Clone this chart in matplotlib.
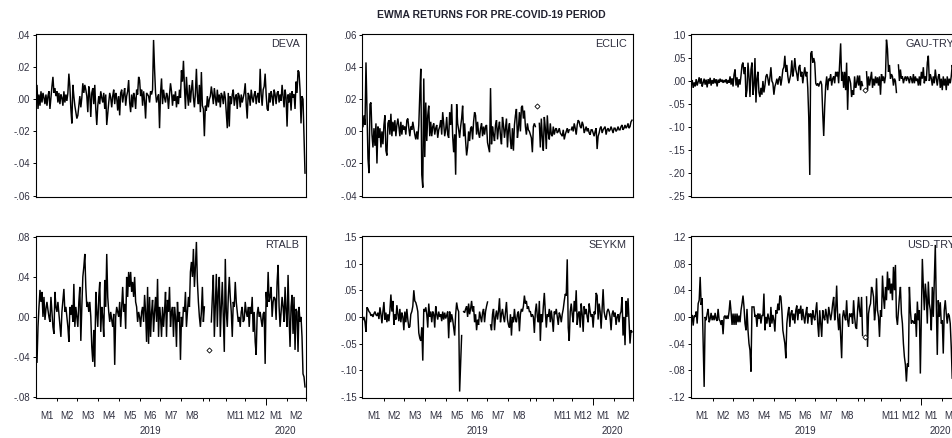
import numpy as np
import matplotlib
matplotlib.use("Agg")
import matplotlib.pyplot as plt
from matplotlib.ticker import FuncFormatter
import matplotlib.transforms as mtransforms

plt.rcParams['font.family'] = ['Liberation Sans', 'DejaVu Sans']

nan = float('nan')

title = "EWMA RETURNS FOR PRE-COVID-19 PERIOD"

# observations per month (Jan 2019 ... Feb 2020)
month_counts = [22, 20, 21, 21, 21, 20, 21, 22, 6, 17, 19, 21, 21, 19]
month_labels = ["M1", "M2", "M3", "M4", "M5", "M6", "M7", "M8", "", "", "M11", "M12", "M1", "M2"]
month_years = [2019] * 12 + [2020] * 2

series_names = ["DEVA", "ECLIC", "GAU-TRY", "RTALB", "SEYKM", "USD-TRY"]

deva = [
    -0.005, 0.009, -0.006, 0.003, -0.004, 0.005, -0.002, 0.004, 0.001, -0.003, 0.003, -0.004, 0.002, 0.005, -0.006, 0.001, 0.008, 0.014, 0.004, 0.007, 0.002, 0.005,
    -0.002, 0.004, -0.003, 0.003, 0.001, -0.004, 0.005, -0.002, 0.003, -0.001, 0.004, 0.016, 0.008, -0.006, -0.015, 0.009, 0.002, -0.004, -0.008, -0.012,
    -0.010, -0.004, 0.002, -0.005, 0.001, 0.010, 0.004, 0.009, 0.006, 0.002, -0.008, 0.008, 0.003, -0.011, 0.004, 0.007, -0.003, 0.009, -0.006, -0.016, -0.004,
    0.002, -0.003, 0.005, 0.001, -0.002, 0.004, -0.006, 0.003, -0.016, -0.009, -0.002, 0.004, 0.001, -0.005, 0.002, 0.006, -0.003, 0.004, 0.001, -0.007, 0.002,
    -0.010, 0.004, 0.006, -0.002, 0.003, 0.007, -0.004, 0.002, 0.005, 0.012, -0.002, -0.008, 0.003, -0.005, 0.004, 0.001, -0.006, 0.006, 0.003, 0.014, 0.012,
    0.002, 0.006, -0.004, 0.005, -0.001, -0.012, 0.004, 0.003, 0.002, -0.002, 0.005, 0.003, 0.006, 0.037, 0.019, 0.004, -0.002, 0.001, 0.003, -0.018,
    0.004, 0.013, -0.003, 0.006, 0.001, -0.002, 0.004, 0.002, -0.006, 0.003, 0.010, 0.005, -0.004, 0.003, -0.001, 0.005, -0.005, 0.002, -0.003, 0.006, 0.001,
    0.018, 0.011, 0.024, 0.008, -0.006, 0.014, 0.003, -0.004, 0.009, -0.002, 0.006, 0.012, 0.001, -0.005, 0.004, 0.019, 0.002, -0.003, 0.009, -0.008, 0.017, -0.004,
    -0.006, -0.023, -0.004, -0.007, 0.002, -0.005,
    0.000, 0.002, 0.008, 0.003, -0.003, 0.007, 0.001, -0.004, 0.006, -0.002, 0.003, -0.005, 0.004, 0.002, -0.003, 0.005, 0.001,
    -0.008, -0.018, 0.004, -0.017, 0.002, -0.003, 0.003, 0.006, -0.004, 0.001, 0.003, -0.006, 0.004, 0.002, -0.005, 0.003, -0.002, 0.001, 0.004,
    0.010, -0.003, -0.012, 0.004, 0.002, -0.004, 0.006, 0.001, -0.002, 0.003, 0.005, -0.003, 0.002, 0.004, -0.002, 0.019, 0.003, -0.004, 0.006, 0.008, 0.016,
    0.003, -0.006, -0.007, 0.004, -0.002, 0.005, 0.002, -0.004, 0.006, 0.003, -0.003, 0.004, 0.005, -0.002, 0.003, -0.001, 0.009, 0.002, -0.005, 0.006, 0.001,
    -0.017, 0.003, -0.002, 0.004, -0.007, 0.005, 0.001, 0.003, -0.006, 0.011, 0.004, 0.018, 0.017, 0.006, -0.015, 0.002, 0.000, -0.023, -0.046,
]

eclic = [
    0.003, 0.010, 0.004, 0.043, 0.013, -0.017, -0.026, 0.017, 0.018, -0.002, -0.010, 0.002, -0.009, 0.005, -0.020, 0.003, -0.004, 0.002, -0.010, 0.000, -0.008, 0.004,
    0.010, -0.012, -0.015, 0.005, 0.007, -0.002, 0.011, -0.003, 0.006, 0.000, 0.007, -0.003, 0.004, 0.008, 0.003, -0.003, 0.006, -0.002, 0.004, 0.001,
    0.003, -0.002, 0.007, 0.008, 0.002, -0.003, 0.003, 0.001, 0.006, 0.002, -0.002, -0.005, 0.000, -0.005, 0.004, 0.023, 0.039, -0.027, -0.035, 0.033, -0.016,
    0.018, -0.006, 0.010, 0.016, -0.003, 0.006, -0.003, 0.003, 0.005, -0.002, 0.002, 0.004, -0.004, 0.001, 0.003, 0.007, -0.002, 0.012, 0.005, -0.003, 0.001,
    0.009, -0.002, -0.004, 0.012, 0.004, 0.017, -0.003, -0.013, -0.002, -0.027, 0.017, 0.005, 0.001, -0.004, 0.003, 0.008, 0.016, -0.003, 0.005, -0.006, -0.015,
    -0.010, 0.000, -0.006, 0.002, 0.003, -0.005, 0.006, 0.012, 0.010, -0.002, 0.006, -0.001, -0.004, 0.002, 0.005, -0.003, 0.003, -0.002, 0.003, 0.004,
    -0.007, -0.010, -0.013, 0.027, -0.008, 0.003, -0.002, -0.006, 0.004, 0.007, -0.005, 0.002, 0.006, -0.003, -0.008, 0.009, 0.004, -0.004, 0.002, 0.008, -0.010,
    0.001, 0.005, -0.006, -0.011, 0.002, -0.012, 0.004, 0.010, 0.014, -0.004, 0.002, 0.012, 0.000, 0.015, 0.016, 0.008, 0.013, 0.003, -0.002, 0.005, 0.001, 0.000,
    -0.002, -0.004, -0.013, 0.003, 0.005, 0.003,
    nan, 0.016, nan, 0.005, -0.010, 0.008, -0.004, -0.012, 0.009, 0.002, -0.011, 0.010, -0.001, -0.005, 0.005, -0.002, -0.003,
    0.003, -0.002, 0.001, 0.002, -0.001, 0.000, 0.002, -0.001, -0.002, -0.003, 0.001, -0.005, -0.002, 0.000, 0.002, -0.001, 0.001, nan, 0.001,
    0.003, 0.000, 0.005, 0.002, -0.002, 0.004, 0.007, 0.006, 0.003, 0.002, 0.006, 0.004, -0.001, 0.001, 0.003, 0.000, 0.002, -0.001, -0.002, 0.001, 0.001,
    -0.001, -0.003, 0.000, 0.002, -0.011, -0.003, -0.001, 0.002, 0.003, -0.001, 0.001, 0.002, 0.003, -0.002, 0.001, 0.002, 0.000, 0.001, 0.003, 0.001, -0.001,
    0.002, 0.002, 0.000, 0.001, 0.003, 0.001, 0.001, 0.003, 0.004, 0.001, 0.002, 0.004, 0.002, 0.003, 0.005, 0.002, 0.003, 0.006, 0.007,
]

gau_try = [
    -0.008, 0.002, -0.015, -0.003, -0.012, 0.004, -0.010, -0.002, 0.008, -0.006, 0.006, -0.012, -0.004, 0.005, -0.008, 0.003, -0.014, 0.004, -0.006, 0.007, -0.010, 0.002,
    -0.006, 0.006, -0.005, 0.004, -0.012, 0.003, -0.004, 0.005, -0.002, 0.003, -0.004, 0.002, -0.003, 0.004, -0.006, 0.002, -0.004, 0.010, -0.008, 0.006,
    -0.012, 0.014, 0.025, -0.010, 0.008, -0.014, 0.004, -0.008, 0.012, 0.035, 0.040, 0.015, 0.030, -0.035, -0.020, 0.040, 0.010, -0.035, 0.025, 0.040, -0.030,
    -0.010, 0.050, -0.047, 0.005, 0.020, -0.025, -0.035, -0.015, -0.030, 0.000, -0.025, -0.010, 0.010, 0.015, 0.005, -0.010, 0.008, 0.030, 0.000, -0.005, -0.030,
    -0.012, -0.005, 0.005, -0.008, 0.005, 0.010, -0.010, 0.005, 0.025, 0.030, 0.055, 0.020, 0.035, 0.010, -0.005, 0.005, 0.015, 0.045, 0.010, 0.025, 0.050,
    0.025, 0.015, 0.000, 0.030, 0.035, 0.010, 0.020, -0.005, 0.015, 0.030, 0.010, 0.020, -0.015, -0.080, -0.205, 0.060, 0.065, 0.040, 0.050, 0.040,
    -0.005, -0.010, -0.005, -0.012, -0.005, 0.000, -0.008, -0.070, -0.120, -0.055, -0.010, 0.010, -0.020, 0.005, 0.000, 0.015, -0.010, 0.005, 0.010, -0.005, 0.020,
    0.010, 0.020, -0.005, 0.040, 0.082, 0.000, 0.020, -0.015, 0.020, -0.020, 0.040, -0.063, 0.010, 0.005, -0.005, -0.035, -0.020, -0.030, 0.010, -0.015, -0.005, 0.012,
    -0.010, 0.012, -0.020, 0.000, -0.010, nan,
    -0.019, nan, 0.020, -0.020, 0.010, -0.010, 0.005, 0.020, -0.015, 0.005, -0.010, 0.010, -0.005, 0.008, -0.010, 0.010, -0.030,
    0.015, 0.000, 0.010, -0.005, 0.010, 0.090, 0.070, 0.020, 0.035, 0.005, 0.015, 0.010, -0.010, 0.005, 0.000, -0.025, nan, 0.035, 0.000,
    0.025, 0.005, 0.010, -0.005, 0.005, 0.010, 0.000, 0.010, 0.005, -0.005, 0.010, 0.005, -0.005, 0.015, -0.005, 0.010, 0.000, 0.005, -0.010, 0.010, -0.010,
    0.020, 0.005, 0.030, -0.005, 0.010, 0.000, 0.040, 0.055, 0.000, 0.015, 0.005, -0.010, 0.010, -0.005, 0.025, 0.005, -0.010, 0.010, 0.015, -0.015, 0.005,
    -0.020, 0.010, -0.010, 0.005, -0.020, 0.010, -0.010, 0.005, -0.005, 0.010, 0.035, 0.020, -0.015, 0.010, -0.020, 0.015, -0.030, 0.020, -0.040,
]

rtalb = [
    -0.010, -0.046, -0.010, 0.010, 0.027, 0.015, 0.025, 0.000, 0.020, -0.003, 0.008, 0.015, 0.007, 0.000, -0.005, 0.020, 0.005, -0.010, -0.017, 0.025, 0.010, 0.005,
    0.015, 0.003, -0.010, -0.020, 0.005, 0.017, 0.028, 0.005, 0.010, 0.000, -0.010, -0.025, 0.010, 0.002, 0.012, -0.005, 0.033, -0.010, 0.010, 0.000,
    -0.010, 0.015, 0.030, -0.024, 0.010, 0.040, 0.050, 0.063, 0.030, 0.010, 0.015, 0.005, 0.015, 0.000, -0.030, -0.045, -0.013, -0.050, 0.025, 0.005, -0.010,
    0.020, 0.035, -0.015, 0.010, 0.000, -0.020, 0.037, 0.010, 0.063, 0.020, 0.005, -0.005, 0.005, -0.003, -0.010, 0.003, -0.048, 0.000, 0.010, 0.005, 0.000,
    0.015, -0.010, 0.010, 0.030, 0.005, 0.013, -0.012, 0.040, 0.020, 0.045, 0.030, 0.045, 0.025, 0.035, 0.020, 0.040, 0.015, 0.010, -0.005, 0.005, 0.000,
    -0.010, 0.005, 0.010, -0.005, 0.022, 0.005, -0.025, 0.030, -0.027, 0.020, -0.020, 0.005, 0.017, -0.015, 0.005, 0.020, -0.005, 0.038, -0.020, 0.010,
    0.000, -0.020, 0.010, -0.010, 0.005, 0.025, -0.020, 0.017, 0.005, 0.030, -0.010, 0.005, 0.010, -0.020, 0.010, 0.000, -0.030, 0.015, -0.005, 0.005, -0.043,
    0.000, -0.010, 0.010, 0.005, 0.025, -0.010, 0.005, 0.020, 0.010, 0.045, 0.055, 0.040, 0.068, 0.030, 0.050, 0.075, 0.035, 0.015, 0.000, -0.010, 0.005, 0.030,
    -0.005, 0.010, nan, nan, nan, nan,
    -0.033, nan, -0.005, 0.020, 0.042, -0.020, 0.010, 0.043, -0.010, 0.025, 0.040, -0.020, 0.010, 0.035, 0.000, -0.035, 0.058,
    0.005, -0.010, 0.020, 0.040, 0.020, 0.005, -0.020, 0.015, 0.010, 0.035, 0.015, 0.005, -0.005, 0.000, -0.010, 0.005, 0.010, -0.005, -0.003,
    0.015, 0.005, 0.000, 0.010, -0.010, 0.010, 0.003, 0.020, -0.015, 0.005, -0.025, -0.038, 0.003, 0.010, 0.000, 0.005, -0.003, -0.010, 0.003, 0.005, -0.047,
    0.025, 0.010, 0.045, 0.015, 0.020, 0.030, 0.000, 0.015, 0.020, 0.018, -0.003, 0.035, 0.052, 0.010, -0.010, 0.005, 0.020, 0.010, -0.005, 0.030, 0.005,
    -0.010, 0.042, 0.000, -0.030, 0.010, 0.022, -0.017, 0.020, -0.033, 0.008, 0.005, -0.035, 0.010, -0.005, 0.000, -0.020, -0.057, -0.060, -0.070,
]

seykm = [
    -0.005, 0.000, -0.010, -0.028, 0.018, 0.015, 0.010, 0.008, 0.002, 0.005, 0.000, 0.006, 0.010, 0.004, 0.002, 0.008, -0.004, 0.018, 0.005, -0.012, 0.010, 0.028,
    -0.005, 0.008, -0.010, 0.005, -0.008, 0.012, 0.042, 0.010, 0.030, -0.015, 0.005, -0.005, 0.022, 0.005, -0.008, 0.015, -0.010, 0.008, 0.000, -0.025,
    0.010, -0.010, 0.015, -0.005, -0.020, -0.018, 0.005, 0.010, 0.020, 0.050, 0.030, 0.027, 0.020, 0.010, -0.030, -0.040, -0.045, -0.020, -0.082, 0.015, 0.010,
    0.018, 0.005, -0.020, 0.025, 0.000, 0.010, -0.010, 0.010, 0.005, -0.020, 0.020, 0.005, -0.005, 0.010, 0.000, 0.005, -0.008, 0.010, -0.005, 0.008, -0.003,
    0.003, 0.010, -0.040, 0.010, -0.010, 0.005, -0.005, -0.020, -0.035, 0.005, 0.027, 0.015, 0.010, -0.140, -0.088, -0.035, nan, 0.010, 0.008, 0.015, 0.020,
    0.000, 0.025, 0.005, 0.015, 0.030, 0.010, 0.020, -0.010, 0.005, -0.025, -0.005, -0.015, 0.010, 0.000, -0.010, 0.008, 0.015, -0.010, 0.010, 0.020,
    0.028, nan, nan, -0.015, -0.025, 0.005, 0.015, -0.025, 0.000, 0.012, -0.005, 0.010, 0.035, -0.010, 0.005, 0.015, 0.000, -0.010, 0.010, 0.028, -0.005,
    -0.015, -0.020, 0.005, -0.035, 0.000, -0.010, 0.015, -0.005, -0.010, 0.005, 0.010, -0.027, 0.005, 0.015, 0.010, 0.020, 0.040, 0.025, 0.030, 0.015, 0.020, 0.010,
    0.010, 0.000, 0.005, 0.000, -0.030, 0.010,
    0.025, 0.000, -0.010, 0.030, -0.045, 0.005, -0.010, 0.020, 0.045, 0.010, -0.020, 0.005, 0.000, 0.015, -0.010, 0.012, -0.005,
    -0.028, 0.010, 0.005, 0.015, 0.000, -0.015, 0.008, 0.002, -0.010, 0.005, 0.015, 0.030, 0.043, 0.040, 0.108, -0.020, -0.045, 0.010, 0.025,
    0.005, -0.010, 0.030, 0.010, 0.050, -0.015, 0.005, 0.010, -0.020, 0.025, 0.005, -0.028, 0.020, 0.005, 0.015, 0.000, -0.010, 0.025, 0.010, 0.000, 0.005,
    -0.020, 0.010, 0.005, 0.045, 0.040, -0.005, 0.025, 0.010, -0.022, 0.015, 0.052, 0.010, 0.000, -0.005, 0.010, 0.015, 0.010, 0.000, -0.025, 0.005, 0.012,
    0.000, 0.008, -0.015, 0.000, 0.005, -0.010, 0.005, 0.010, 0.037, -0.035, 0.000, -0.053, 0.030, 0.000, 0.035, -0.010, -0.050, -0.025, -0.028,
]

usd_try = [
    -0.005, 0.003, -0.013, 0.002, 0.000, 0.008, -0.010, 0.020, 0.025, 0.060, 0.018, 0.028, -0.040, -0.105, 0.000, -0.005, 0.005, 0.012, -0.008, -0.003, 0.006, -0.005,
    0.002, -0.005, 0.006, -0.003, -0.006, 0.012, -0.004, -0.006, -0.012, -0.005, -0.026, 0.000, 0.002, -0.003, 0.002, -0.003, 0.008, 0.025, 0.008, -0.012,
    0.005, -0.012, 0.005, -0.012, 0.005, -0.008, 0.002, -0.008, 0.010, 0.020, 0.032, 0.015, -0.010, -0.020, 0.012, -0.020, -0.040, -0.050, -0.082, 0.015, 0.015,
    0.015, 0.000, 0.003, -0.015, 0.005, -0.003, 0.005, -0.010, 0.002, 0.002, 0.035, -0.020, 0.000, -0.010, 0.005, -0.003, -0.015, 0.015, -0.010, 0.003, -0.005,
    -0.022, 0.010, 0.005, 0.020, 0.010, 0.032, 0.030, 0.010, -0.020, -0.030, -0.040, -0.062, -0.010, 0.005, 0.015, -0.015, 0.005, 0.010, -0.005, 0.005, -0.010,
    0.010, 0.017, -0.005, 0.012, 0.005, 0.017, -0.005, 0.012, 0.000, -0.010, 0.005, 0.015, -0.010, 0.005, 0.000, 0.005, -0.012, 0.010, 0.000, -0.005,
    0.008, 0.022, -0.010, -0.030, 0.010, -0.010, -0.030, 0.010, 0.000, -0.005, 0.012, 0.002, -0.010, 0.015, 0.005, -0.005, 0.005, 0.020, 0.030, -0.005, 0.010,
    0.047, 0.000, -0.020, 0.005, -0.030, -0.062, 0.000, 0.010, 0.000, -0.005, 0.025, -0.005, -0.015, 0.005, 0.000, 0.005, -0.010, 0.025, 0.000, -0.015, -0.018, 0.010,
    0.030, 0.010, 0.000, 0.030, -0.028, nan,
    -0.030, nan, 0.030, -0.045, 0.005, 0.015, 0.020, 0.045, 0.040, 0.030, -0.005, 0.010, 0.058, 0.010, 0.000, -0.030, 0.010,
    0.000, 0.062, 0.030, 0.012, 0.045, 0.025, 0.068, 0.040, 0.058, 0.035, 0.050, 0.025, 0.075, 0.040, 0.078, 0.000, -0.012, 0.010, 0.030,
    0.045, 0.005, -0.010, -0.040, -0.060, -0.072, -0.097, -0.070, -0.075, 0.045, 0.010, -0.010, -0.005, -0.008, -0.010, 0.005, -0.030, 0.023, -0.005, 0.010, -0.085,
    0.003, 0.087, 0.045, 0.010, 0.050, 0.030, -0.010, 0.053, 0.020, 0.010, -0.020, 0.045, 0.000, 0.057, 0.108, 0.020, -0.057, 0.025, 0.000, 0.022, -0.010,
    -0.005, -0.055, 0.010, 0.025, 0.005, -0.010, 0.005, 0.002, -0.010, -0.045, -0.093, -0.020, 0.010, -0.030, 0.015, -0.020, 0.005, -0.040, -0.030,
]

series_values = [deva, eclic, gau_try, rtalb, seykm, usd_try]
y_ranges = [(-0.06, 0.04), (-0.04, 0.06), (-0.25, 0.10), (-0.08, 0.08), (-0.15, 0.15), (-0.12, 0.12)]
y_steps = [0.02, 0.02, 0.05, 0.04, 0.05, 0.04]

# ---------------- layout ----------------
W, H = 953, 438
fig = plt.figure(figsize=(W / 100, H / 100), dpi=100)
fig.patch.set_facecolor('white')

col_left = [35.5, 362.5, 690.7]
row_top = [33.7, 235.5]
row_h = [163.0, 162.5]
ax_w = 270.0

text_color = '#2f2f3f'

counts = np.array(month_counts)
ends = np.cumsum(counts)
starts = ends - counts
n_obs = int(ends[-1])
centers = starts + (counts - 1) / 2.0
boundaries = ends - 0.5
year_change = [i for i in range(1, len(month_years)) if month_years[i] != month_years[i - 1]]
year_bounds = [starts[i] - 0.5 for i in year_change]
month_bounds = [b for b in boundaries if b not in year_bounds]
years = sorted(set(month_years))
year_centers = []
for yv in years:
    idx = [i for i, m in enumerate(month_years) if m == yv]
    year_centers.append((starts[idx[0]] + ends[idx[-1]] - 1) / 2.0)


def fmt(v, pos):
    s = f"{v:.2f}"
    if s.startswith("-0"):
        s = "-" + s[2:]
    elif s.startswith("0"):
        s = s[1:]
    if s == "-.00":
        s = ".00"
    return s


for k, (name, vals, (lo, hi), step) in enumerate(zip(series_names, series_values, y_ranges, y_steps)):
    r, c = divmod(k, 3)
    left = col_left[c] / W
    bottom = 1 - (row_top[r] + row_h[r]) / H
    ax = fig.add_axes([left, bottom, ax_w / W, row_h[r] / H])
    y = np.array(vals, dtype=float)
    x = np.arange(len(y))
    ax.plot(x, y, color='black', lw=1.05, solid_joinstyle='miter')
    iso = [i for i in range(len(y)) if not np.isnan(y[i])
           and (i == 0 or np.isnan(y[i - 1])) and (i == len(y) - 1 or np.isnan(y[i + 1]))]
    if iso:
        ax.plot(x[iso], y[iso], ls='none', marker='D', ms=2.6, mfc='white', mec='black', mew=0.6)

    ax.set_xlim(-0.5, n_obs - 0.5)
    rng = hi - lo
    ax.set_ylim(lo - 0.007 * rng, hi + 0.009 * rng)
    ax.set_yticks(np.arange(lo, hi + step / 2, step))
    ax.yaxis.set_major_formatter(FuncFormatter(fmt))
    ax.tick_params(axis='y', direction='out', length=2.5, width=0.7, pad=1.5,
                   labelsize=7, labelcolor=text_color, color='black')
    for sp in ax.spines.values():
        sp.set_linewidth(0.8)
        sp.set_color('black')

    ax.text(1 - 6 / ax_w, 1 - 5 / row_h[r], name, transform=ax.transAxes,
            ha='right', va='top', fontsize=7.8, color=text_color)

    if r == 0:
        ax.set_xticks([])
    else:
        ax.set_xticks(centers)
        ax.set_xticklabels(month_labels)
        ax.tick_params(axis='x', which='major', length=0, pad=9.5, labelsize=7, labelcolor=text_color)
        ax.set_xticks(month_bounds, minor=True)
        ax.tick_params(axis='x', which='minor', direction='out', length=2.5, width=0.7, color='black')
        sec = ax.secondary_xaxis('bottom')
        sec.set_xticks(year_bounds)
        sec.set_xticklabels([''] * len(year_bounds))
        sec.tick_params(direction='out', length=5.0, width=0.7, color='black')
        sec.spines['bottom'].set_visible(False)
        trans = mtransforms.blended_transform_factory(ax.transData, ax.transAxes)
        for yc, yv in zip(year_centers, years):
            ax.text(yc, -33 / row_h[r], str(yv), transform=trans, ha='center', va='center',
                    fontsize=7, color=text_color)

fig.text(491.7 / W, 1 - 15 / H, title, ha='center', va='center', fontsize=7.5,
         fontweight='bold', color='#222230')

fig.savefig('out.png', dpi=100, facecolor='white')
